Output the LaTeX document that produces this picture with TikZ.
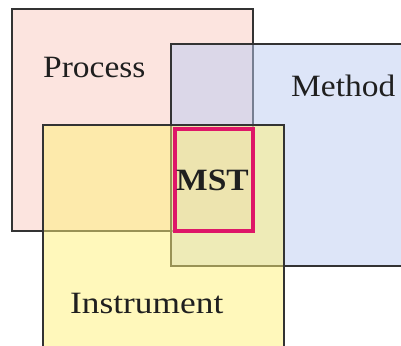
\documentclass[tikz,border=0pt]{standalone}
\usepackage{fontspec}
\setmainfont{Liberation Serif}[FakeStretch=1.08]
\begin{document}
\begin{tikzpicture}[x=1pt,y=-1pt,
  box/.style={draw=black!80, line width=1.5pt, inner sep=0pt, outer sep=0pt, anchor=north west, fill opacity=0.5, text opacity=1},
  lbl/.style={inner sep=0pt, text=black!88, font=\fontsize{31}{31}\selectfont},
  mstbox/.style={draw=mstc, line width=4pt, inner sep=0pt, anchor=north west}]
\definecolor{procc}{RGB}{249,201,191}
\definecolor{methc}{RGB}{187,203,241}
\definecolor{instc}{RGB}{255,241,119}
\definecolor{mstc}{RGB}{222,22,104}
\useasboundingbox (0,0) rectangle (401,345);
\clip (0,0) rectangle (401,345);
\node[box, fill=procc, minimum width=241pt, minimum height=222pt] (process) at (12,9) {};
\node[box, fill=methc, minimum width=260pt, minimum height=222pt] (method) at (171,44) {};
\node[box, fill=instc, minimum width=241pt, minimum height=240pt] (instrument) at (43,125) {};
\node[mstbox, minimum width=78pt, minimum height=102pt] (mst) at (173,127) {};
\node[lbl, anchor=base west] (lp) at (43,77) {Process};
\node[lbl, anchor=base west] (lm) at (291,96) {Method};
\node[lbl, anchor=base west, font=\fontsize{31}{31}\selectfont\addfontfeature{FakeStretch=1.14}] (li) at (70,313) {Instrument};
\node[lbl, anchor=base, font=\fontsize{31}{31}\selectfont\bfseries] (lmst) at (212.5,190) {MST};
\end{tikzpicture}
\end{document}
